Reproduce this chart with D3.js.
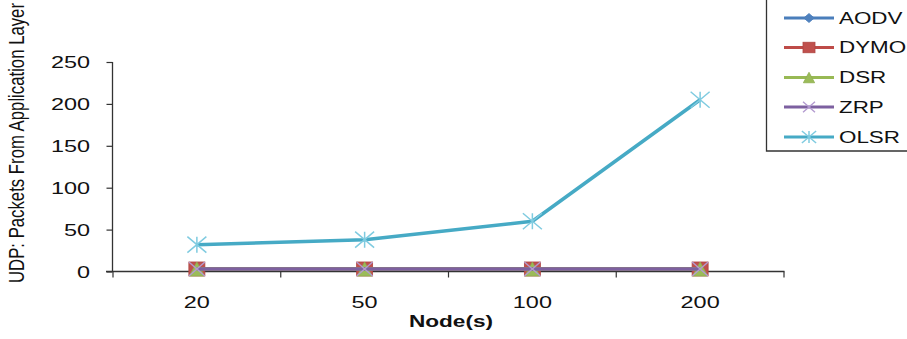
<!DOCTYPE html>
<html>
<head>
<meta charset="utf-8">
<script src="https://cdn.jsdelivr.net/npm/d3@7"></script>
<style>
  html, body { margin: 0; padding: 0; background: #fff; }
  svg { display: block; font-family: Arial, "Liberation Sans", sans-serif; }
</style>
</head>
<body>
<svg id="chart" width="907" height="339"></svg>
<script>
// Node counts on the x axis
const categories = ["20", "50", "100", "200"];
// UDP packets from application layer, per protocol
const aodv = [3, 3, 3, 3];
const dymo = [3, 3, 3, 3];
const dsr  = [3, 3, 3, 3];
const zrp  = [3, 3, 3, 3];
const olsr = [32, 38, 60, 205];
const yTicks = [0, 50, 100, 150, 200, 250];
const seriesNames = ["AODV", "DYMO", "DSR", "ZRP", "OLSR"];

const series = [
  { name: seriesNames[0], values: aodv, line: "#4A7EBB", fill: "#4F81BD", marker: "diamond" },
  { name: seriesNames[1], values: dymo, line: "#BE4B48", fill: "#C0504D", marker: "square" },
  { name: seriesNames[2], values: dsr,  line: "#98B954", fill: "#9BBB59", marker: "triangle" },
  { name: seriesNames[3], values: zrp,  line: "#7D60A0", fill: "#B39BD0", marker: "x" },
  { name: seriesNames[4], values: olsr, line: "#46AAC5", fill: "#7FCBE0", marker: "star" }
];

const SX = 1.42; // horizontal stretch used for all text
const FS = 16.5;
const svg = d3.select("#chart");

const x = d3.scaleBand().domain(categories).range([113, 784]).padding(0);
const y = d3.scaleLinear().domain([0, 250]).range([271.5, 62]);
const cx = c => x(c) + x.bandwidth() / 2;

// Y axis
const yAxis = svg.append("g")
  .attr("transform", "translate(112.5,0)")
  .call(d3.axisLeft(y).tickValues(yTicks).tickSize(6).tickSizeOuter(0));
yAxis.select(".domain").attr("stroke", "#333").attr("stroke-width", 1.3)
  .attr("d", `M0,${y(250)}V${y(0)}`);
yAxis.selectAll(".tick line").attr("stroke", "#333").attr("stroke-width", 1.2);
yAxis.selectAll(".tick text")
  .attr("x", 0).attr("dy", "0.36em")
  .attr("transform", `translate(-22.5,0) scale(${SX},1)`)
  .attr("font-size", FS).attr("fill", "#111")
  .attr("font-family", "Arial, 'Liberation Sans', sans-serif");

// X axis with category labels
const xAxis = svg.append("g")
  .attr("transform", `translate(0,${y(0)})`)
  .call(d3.axisBottom(x).tickSize(0).tickSizeOuter(0));
xAxis.select(".domain").attr("stroke", "#333").attr("stroke-width", 1.3)
  .attr("d", `M106,0H784.5`);
xAxis.selectAll(".tick text")
  .attr("y", 0).attr("dy", 0)
  .attr("transform", `translate(0,36.5) scale(${SX},1)`)
  .attr("font-size", FS).attr("fill", "#111")
  .attr("font-family", "Arial, 'Liberation Sans', sans-serif");

// Tick marks between categories
const edges = categories.map(c => x(c)).concat([x.range()[1]]);
xAxis.selectAll(".edge").data(edges).join("line")
  .attr("class", "edge")
  .attr("x1", d => d).attr("x2", d => d)
  .attr("y1", 0).attr("y2", 6)
  .attr("stroke", "#333").attr("stroke-width", 1.2);

// Axis titles
svg.append("g")
  .attr("transform", `translate(451,327) scale(1.33,1)`)
  .append("text")
  .attr("text-anchor", "middle")
  .attr("font-size", 17).attr("font-weight", "bold").attr("fill", "#111")
  .text("Node(s)");

svg.append("g")
  .attr("transform", `translate(24,143) scale(1.45,1) rotate(-90)`)
  .append("text")
  .attr("text-anchor", "middle")
  .attr("font-size", 15).attr("fill", "#111")
  .attr("textLength", 280).attr("lengthAdjust", "spacingAndGlyphs")
  .text("UDP: Packets From Application Layer");

// Marker drawing
function drawMarker(g, s, px, py, scale) {
  const k = scale || 1;
  const m = g.append("g").attr("transform", `translate(${px},${py})`);
  if (s.marker === "diamond") {
    m.append("path").attr("d", `M0,${-6*k}L${7*k},0L0,${6*k}L${-7*k},0Z`)
      .attr("fill", s.fill).attr("stroke", s.line).attr("stroke-width", 0.8);
  } else if (s.marker === "square") {
    m.append("rect").attr("x", -8*k).attr("y", -7*k).attr("width", 16*k).attr("height", 14*k)
      .attr("fill", s.fill).attr("stroke", "#B04541").attr("stroke-width", 0.8);
  } else if (s.marker === "triangle") {
    m.append("path").attr("d", `M0,${-7*k}L${7.5*k},${7*k}L${-7.5*k},${7*k}Z`)
      .attr("fill", s.fill).attr("stroke", "#8EAF4E").attr("stroke-width", 0.8);
  } else if (s.marker === "x") {
    m.append("path").attr("d", `M${-8*k},${-7*k}L${8*k},${7*k}M${-8*k},${7*k}L${8*k},${-7*k}`)
      .attr("stroke", s.fill).attr("stroke-width", 1.4).attr("fill", "none");
  } else if (s.marker === "star") {
    m.append("path").attr("d",
      `M${-9.5*k},${-8*k}L${9.5*k},${8*k}M${-9.5*k},${8*k}L${9.5*k},${-8*k}M0,${-8*k}L0,${8*k}`)
      .attr("stroke", s.fill).attr("stroke-width", 1.5).attr("fill", "none");
  }
}

// Series lines and markers
const line = d3.line().x(d => cx(d.c)).y(d => y(d.v));
const plot = svg.append("g");
series.forEach(s => {
  const pts = categories.map((c, i) => ({ c, v: s.values[i] }));
  const g = plot.append("g");
  g.append("path").datum(pts)
    .attr("d", line).attr("fill", "none")
    .attr("stroke", s.line).attr("stroke-width", 3.5)
    .attr("stroke-linejoin", "round");
  pts.forEach(p => drawMarker(g, s, cx(p.c), y(p.v), 1));
});

// Legend
const legend = svg.append("g");
legend.append("path").attr("d", "M766.5,0V151H907")
  .attr("fill", "none").attr("stroke", "#333").attr("stroke-width", 1.3);
const legendY = [18, 47.5, 77.5, 107, 137];
series.forEach((s, i) => {
  const ly = legendY[i];
  legend.append("line").attr("x1", 784).attr("x2", 834).attr("y1", ly).attr("y2", ly)
    .attr("stroke", s.line).attr("stroke-width", 3.2);
  drawMarker(legend, s, 809, ly, 0.75);
  legend.append("g").attr("transform", `translate(839,${ly}) scale(1.4,1)`)
    .append("text").attr("dy", "0.36em")
    .attr("font-size", 16).attr("fill", "#111")
    .text(s.name);
});
</script>
</body>
</html>
